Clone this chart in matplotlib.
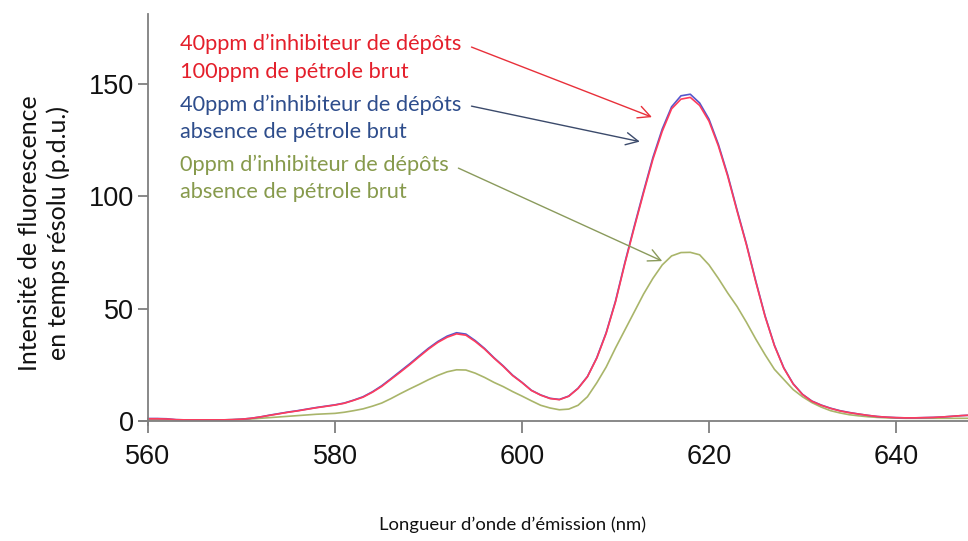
import matplotlib
matplotlib.use("Agg")
import matplotlib.pyplot as plt
from matplotlib import font_manager

# ---------------- data ----------------
wavelength = list(range(560, 649))  # nm, 1 nm steps

red_40ppm_100ppm_crude = [
    1.0, 1.0, 0.9, 0.6, 0.5, 0.5, 0.5, 0.5, 0.5, 0.6,        # 560-569
    0.8, 1.2, 1.8, 2.5, 3.2, 3.9, 4.5, 5.2, 5.9, 6.5,        # 570-579
    7.1, 7.9, 9.2, 10.6, 12.8, 15.4, 18.6, 21.8, 25.1, 28.6, # 580-589
    32.0, 35.0, 37.3, 38.8, 38.2, 35.4, 32.0, 28.0, 24.3, 20.2,  # 590-599
    17.1, 13.6, 11.5, 10.0, 9.5, 11.0, 14.5, 19.7, 28.0, 39.0,   # 600-609
    53.0, 70.0, 86.0, 101.5, 116.5, 129.0, 139.0, 143.3, 144.1, 140.5,  # 610-619
    133.5, 122.5, 109.0, 93.5, 78.5, 62.0, 46.5, 33.5, 23.5, 16.5,      # 620-629
    11.8, 8.8, 7.0, 5.6, 4.5, 3.7, 3.1, 2.5, 2.0, 1.7,       # 630-639
    1.5, 1.4, 1.4, 1.5, 1.6, 1.8, 2.1, 2.4, 2.6,             # 640-648
]

blue_40ppm_no_crude = [
    1.1, 1.1, 1.0, 0.6, 0.5, 0.5, 0.5, 0.5, 0.5, 0.6,
    0.8, 1.2, 1.8, 2.6, 3.3, 4.0, 4.6, 5.3, 6.0, 6.6,
    7.2, 8.0, 9.3, 10.8, 13.0, 15.7, 18.9, 22.2, 25.5, 29.0,
    32.4, 35.4, 37.8, 39.3, 38.7, 35.8, 32.3, 28.2, 24.5, 20.4,
    17.2, 13.7, 11.6, 10.1, 9.6, 11.1, 14.6, 19.8, 28.2, 39.3,
    53.4, 70.5, 86.6, 102.2, 117.3, 130.0, 139.9, 144.8, 145.5, 141.6,
    134.4, 123.2, 109.6, 94.0, 78.9, 62.4, 46.8, 33.7, 23.7, 16.6,
    11.9, 8.9, 7.1, 5.7, 4.6, 3.8, 3.1, 2.5, 2.0, 1.7,
    1.5, 1.4, 1.4, 1.5, 1.6, 1.8, 2.1, 2.4, 2.6,
]

green_0ppm_no_crude = [
    0.5, 0.5, 0.5, 0.5, 0.5, 0.5, 0.5, 0.5, 0.5, 0.6,
    0.7, 0.9, 1.2, 1.5, 1.8, 2.1, 2.4, 2.7, 3.0, 3.2,
    3.4, 3.9, 4.6, 5.4, 6.6, 8.0, 10.0, 12.2, 14.3, 16.3,
    18.4, 20.3, 21.9, 22.8, 22.7, 21.3, 19.4, 17.2, 15.3, 13.1,
    11.1, 9.0, 7.0, 5.8, 5.0, 5.3, 7.0, 10.8, 17.0, 24.0,
    32.5, 40.5, 48.5, 56.5, 63.5, 69.5, 73.5, 75.0, 75.1, 74.0,
    69.5, 63.5, 57.0, 51.0, 44.0, 36.5, 29.5, 23.0, 18.5, 14.0,
    10.8, 8.2, 6.2, 4.6, 3.6, 2.8, 2.3, 1.9, 1.6, 1.4,
    1.3, 1.2, 1.2, 1.2, 1.2, 1.2, 1.2, 1.2, 1.2,
]

x_ticks = [560, 580, 600, 620, 640]
y_ticks = [0, 50, 100, 150]

labels_red = ["40ppm d\u2019inhibiteur de dépôts", "100ppm de pétrole brut"]
labels_blue = ["40ppm d\u2019inhibiteur de dépôts", "absence de pétrole brut"]
labels_green = ["0ppm d\u2019inhibiteur de dépôts", "absence de pétrole brut"]
y_label = "Intensité de fluorescence\nen temps résolu (p.d.u.)"
x_label = "Longueur d\u2019onde d\u2019émission (nm)"

# ---------------- fonts ----------------
names = {f.name for f in font_manager.fontManager.ttflist}
tick_font = "Liberation Sans Narrow" if "Liberation Sans Narrow" in names else "Liberation Sans"
tick_size = 23 if tick_font == "Liberation Sans Narrow" else 19.5
text_font = ["Lato", "DejaVu Sans"]

# ---------------- figure ----------------
fig = plt.figure(figsize=(9.68, 5.41), dpi=100)
ax = fig.add_axes([0.1432, 0.2135, 0.8568, 0.7597])

c_red_line = "#ff3c5c"
c_blue_line = "#5656cc"
c_green_line = "#a9b56a"

ax.plot(wavelength, green_0ppm_no_crude, color=c_green_line, lw=1.2)
ax.plot(wavelength, blue_40ppm_no_crude, color=c_blue_line, lw=1.2)
ax.plot(wavelength, red_40ppm_100ppm_crude, color=c_red_line, lw=1.2)

ax.set_xlim(559, 647.7)
ax.set_ylim(-2, 181)

for s in ["top", "right"]:
    ax.spines[s].set_visible(False)
ax.spines["bottom"].set_position(("data", 0))
ax.spines["left"].set_position(("data", 560))
for s in ["bottom", "left"]:
    ax.spines[s].set_color("#7f7f7f")
    ax.spines[s].set_linewidth(1.3)

ax.set_xticks(x_ticks)
ax.set_yticks(y_ticks)
ax.tick_params(axis="both", direction="out", color="#7f7f7f", width=1.3,
               labelsize=tick_size, labelcolor="#111111")
ax.tick_params(axis="x", length=8.5, pad=8)
ax.tick_params(axis="y", length=7, pad=3)
for lab in ax.get_xticklabels() + ax.get_yticklabels():
    lab.set_fontfamily(tick_font)

# annotation texts
txt_kw = dict(fontsize=15.7, family=text_font, ha="left", va="center")
c_red_txt, c_blue_txt, c_green_txt = "#e41f2b", "#2e4d8c", "#879a4c"
x_txt = 563.4
ax.text(x_txt, 168.0, labels_red[0], color=c_red_txt, **txt_kw)
ax.text(x_txt, 155.4, labels_red[1], color=c_red_txt, **txt_kw)
ax.text(x_txt, 140.7, labels_blue[0], color=c_blue_txt, **txt_kw)
ax.text(x_txt, 128.7, labels_blue[1], color=c_blue_txt, **txt_kw)
ax.text(x_txt, 114.0, labels_green[0], color=c_green_txt, **txt_kw)
ax.text(x_txt, 102.0, labels_green[1], color=c_green_txt, **txt_kw)

arrow_kw = dict(arrowstyle="->", lw=1.0, mutation_scale=22, shrinkA=0, shrinkB=0)
ax.annotate("", xy=(613.9, 135.3), xytext=(594.6, 166.5),
            arrowprops=dict(color="#e8303a", **arrow_kw))
ax.annotate("", xy=(612.6, 124.4), xytext=(594.6, 140.2),
            arrowprops=dict(color="#3b4a6b", **arrow_kw))
ax.annotate("", xy=(615.0, 71.2), xytext=(593.2, 112.6),
            arrowprops=dict(color="#8a9a5c", **arrow_kw))

# axis labels
fig.text(44 / 968, 1 - 233 / 541, y_label, rotation=90, ha="center", va="center",
         multialignment="center", fontsize=18, family=text_font, color="#111111",
         linespacing=1.3)
fig.text(513 / 968, 1 - 525 / 541, x_label, ha="center", va="center",
         fontsize=13.3, family=text_font, color="#111111")

fig.savefig("out.png", dpi=100)
